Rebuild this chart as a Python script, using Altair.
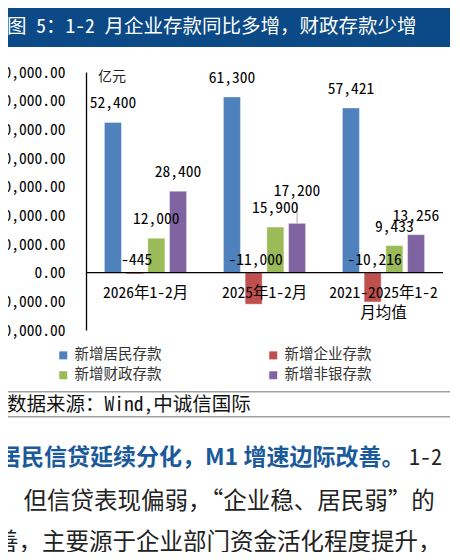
import altair as alt
import pandas as pd

# ---------------- data ----------------
CATEGORIES = ["2026年1-2月", "2025年1-2月", "2021-2025年1-2月均值"]
CAT_LABELS = ["2026年1-2月", "2025年1-2月", "2021-2025年1-2|月均值"]
SERIES = ["新增居民存款", "新增企业存款", "新增财政存款", "新增非银存款"]
COLORS = ["#4F81BD", "#C0504D", "#9BBB59", "#8064A2"]
# legend is filled column by column: list entries so rows read 居民|企业, 财政|非银
LEGEND_ORDER = ["新增居民存款", "新增财政存款", "新增企业存款", "新增非银存款"]
LEGEND_COLORS = ["#4F81BD", "#9BBB59", "#C0504D", "#8064A2"]
HOUSEHOLD = [52400, 61300, 57421]
CORPORATE = [-445, -11000, -10216]
FISCAL = [12000, 15900, 9433]
NONBANK = [28400, 17200, 13256]
Y_TICKS = [-20000, -10000, 0, 10000, 20000, 30000, 40000, 50000, 60000, 70000]

TITLE = "图 5：1-2 月企业存款同比多增，财政存款少增"
UNIT = "亿元"
SOURCE = "数据来源：Wind,中诚信国际"
PARA_1_BOLD = "居民信贷延续分化，M1 增速边际改善。"
PARA_1_REST = "1-2"
PARA_2 = "，但信贷表现偏弱，“企业稳、居民弱”的"
PARA_3 = "善，主要源于企业部门资金活化程度提升，"

MONO = "Noto Sans Mono CJK SC, Noto Sans CJK SC, monospace"
SANS = "Noto Sans CJK SC"

rows = []
for s, vals in zip(SERIES, [HOUSEHOLD, CORPORATE, FISCAL, NONBANK]):
    for c, v in zip(CATEGORIES, vals):
        rows.append({"category": c, "series": s, "value": v, "label": f"{v:,}"})
df = pd.DataFrame(rows)
df_cat = pd.DataFrame({"category": CATEGORIES, "catlabel": CAT_LABELS})
one = pd.DataFrame({"k": [1]})

W, H = 357, 258

x_enc = alt.X("category:N", sort=CATEGORIES, axis=None,
              scale=alt.Scale(paddingInner=0, paddingOuter=0))
xo_enc = alt.XOffset("series:N", sort=SERIES,
                     scale=alt.Scale(paddingInner=0.217, paddingOuter=0.85))
y_scale = alt.Scale(domain=[-20000, 70000], nice=False, zero=False)
y_axis = alt.Axis(title=None, values=Y_TICKS, format=",.2f", grid=False,
                  ticks=False, tickSize=0, labelPadding=21,
                  labelOverlap=False, labelFlush=False,
                  labelFont=MONO, labelFontSize=15.5, labelColor="black",
                  domainColor="black", domainWidth=1.3)
y_enc = alt.Y("value:Q", scale=y_scale, axis=y_axis)
y_zero = alt.YDatum(0, scale=y_scale, axis=y_axis)

bars = alt.Chart(df).mark_bar(stroke="white", strokeWidth=0.8, strokeOpacity=0.45).encode(
    x=x_enc,
    xOffset=xo_enc,
    y=y_enc,
    color=alt.Color("series:N", sort=LEGEND_ORDER,
                    scale=alt.Scale(domain=LEGEND_ORDER, range=LEGEND_COLORS),
                    legend=alt.Legend(orient="none", legendX=-30, legendY=276,
                                      columns=2, title=None, symbolType="square",
                                      symbolSize=64, symbolStrokeWidth=0,
                                      labelFont=SANS, labelFontSize=14.5,
                                      labelColor="#333333", columnPadding=104,
                                      rowPadding=5, labelOffset=4, padding=0)),
)

zero_line = alt.Chart(one).mark_rule(color="black", strokeWidth=1.3).encode(
    y=y_zero, x=alt.value(0), x2=alt.value(W))

leader_filter = "datum.category == '2025年1-2月' && datum.series == '新增非银存款'"

pos_labels = alt.Chart(df).transform_filter(
    f"datum.value > 0 && !({leader_filter})"
).mark_text(dy=-19, baseline="middle", font=MONO, fontSize=15.5, color="black").encode(
    x=x_enc, xOffset=xo_enc, y=y_enc, text="label:N")

leader_label = alt.Chart(df).transform_filter(leader_filter).mark_text(
    dy=-32, baseline="middle", font=MONO, fontSize=15.5, color="black").encode(
    x=x_enc, xOffset=xo_enc, y=y_enc, text="label:N")

leader_line = alt.Chart(df).transform_filter(leader_filter).transform_calculate(
    top="datum.value + 7000"
).mark_rule(color="#a6a6a6", strokeWidth=1).encode(
    x=x_enc, xOffset=xo_enc, y=y_enc, y2="top:Q")

neg_labels = alt.Chart(df).transform_filter("datum.value < 0").mark_text(
    dy=-13, dx=2, baseline="middle", font=MONO, fontSize=15.5, color="black").encode(
    x=x_enc, xOffset=xo_enc, y=y_zero, text="label:N")

cat_labels = alt.Chart(df_cat).mark_text(
    dy=13, baseline="top", font=MONO, fontSize=15.5, color="black",
    lineBreak="|", lineHeight=20).encode(
    x=x_enc, y=y_zero, text="catlabel:N")

unit = alt.Chart(one).mark_text(align="left", baseline="middle", font=SANS,
                                fontSize=14, color="#222222").encode(
    x=alt.value(12), y=alt.value(5), text=alt.value(UNIT))

header_bg = alt.Chart(one).mark_rect(color="#0b4a86").encode(
    x=alt.value(-81), x2=alt.value(364), y=alt.value(-67), y2=alt.value(-25))
header_txt = alt.Chart(one).mark_text(align="left", baseline="middle", font=MONO,
                                      fontSize=19.5, color="white").encode(
    x=alt.value(-79), y=alt.value(-45.5), text=alt.value(TITLE))

line_a = alt.Chart(one).mark_rule(color="#a0a0a0", strokeWidth=1.5).encode(
    x=alt.value(-81), x2=alt.value(364), y=alt.value(319.7))
line_b = alt.Chart(one).mark_rule(color="#a0a0a0", strokeWidth=1.5).encode(
    x=alt.value(-81), x2=alt.value(364), y=alt.value(344.7))
source_txt = alt.Chart(one).mark_text(align="left", baseline="middle", font=MONO,
                                      fontSize=19.5, color="#111111").encode(
    x=alt.value(-79), y=alt.value(333), text=alt.value(SOURCE))

p1 = alt.Chart(one).mark_text(align="left", baseline="middle", font=SANS,
                              fontSize=23, fontWeight="bold", color="#1a5a9a").encode(
    x=alt.value(-88), y=alt.value(386), text=alt.value(PARA_1_BOLD))
p1b = alt.Chart(one).mark_text(align="left", baseline="middle", font=MONO,
                               fontSize=22, color="#222222").encode(
    x=alt.value(323), y=alt.value(386), text=alt.value(PARA_1_REST))
p2 = alt.Chart(one).mark_text(align="left", baseline="middle", font=SANS,
                              fontSize=23.5, color="#222222").encode(
    x=alt.value(-86), y=alt.value(430), text=alt.value(PARA_2))
p3 = alt.Chart(one).mark_text(align="left", baseline="middle", font=SANS,
                              fontSize=23.5, color="#222222").encode(
    x=alt.value(-91), y=alt.value(471), text=alt.value(PARA_3))

chart = alt.layer(
    header_bg, header_txt, bars, zero_line, leader_line, pos_labels, leader_label,
    neg_labels, cat_labels, unit, line_a, line_b, source_txt, p1, p1b, p2, p3
).properties(
    width=W, height=H,
    autosize=alt.AutoSizeParams(type="none"),
    padding={"left": 78, "top": 64, "right": 9, "bottom": 222},
).configure_view(stroke=None)

chart.save("out.html", embed_options={"renderer": "svg", "actions": False})
